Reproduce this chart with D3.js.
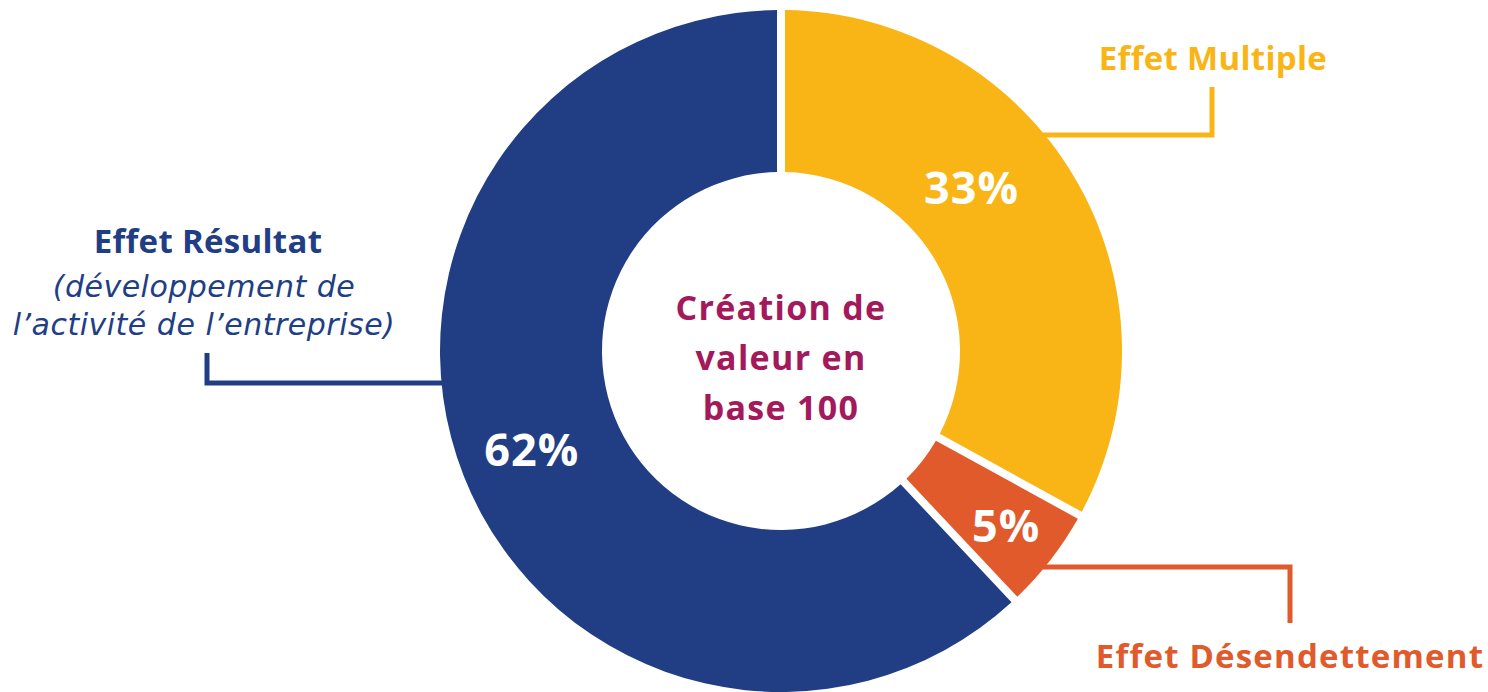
<!DOCTYPE html>
<html>
<head>
<meta charset="utf-8">
<script src="https://cdn.jsdelivr.net/npm/d3@7"></script>
<style>
  body { margin: 0; background: #fff; }
  svg { display: block; font-family: "Open Sans", Lato, sans-serif; font-variant-ligatures: none; }
</style>
</head>
<body>
<div id="container"></div>
<script>
// Data
const categories = ["Effet Multiple", "Effet Désendettement", "Effet Résultat"];
const values = [33, 5, 62];
const subLabels = [[], [], ["(développement de", "l’activité de l’entreprise)"]];
const centerLines = ["Création de", "valeur en", "base 100"];

const colors = ["#f9b515", "#e05a2b", "#213e84"];
const centerColor = "#a3195b";

// Chart dimensions
const width = 1488;
const height = 692;
const cx = 781;
const cy = 351;
const outerR = 341;
const innerR = 179;

const svg = d3.select("#container").append("svg")
    .attr("width", width)
    .attr("height", height);

const g = svg.append("g").attr("transform", `translate(${cx},${cy})`);

const pie = d3.pie().sort(null).value(d => d);
const arcs = pie(values);

const padRadius = outerR;
const arc = d3.arc()
    .innerRadius(innerR)
    .outerRadius(outerR)
    .padRadius(padRadius)
    .padAngle(8 / padRadius);

g.selectAll("path.slice")
    .data(arcs)
    .join("path")
    .attr("class", "slice")
    .attr("fill", (d, i) => colors[i])
    .attr("d", arc);

// percentage labels inside slices
const labelRadius = [251, 285, 268];
const labelAngleShift = [-10 * Math.PI / 180, 0, 0];
g.selectAll("text.pct")
    .data(arcs)
    .join("text")
    .attr("class", "pct")
    .attr("transform", (d, i) => {
        const a = (d.startAngle + d.endAngle) / 2 + labelAngleShift[i];
        const r = labelRadius[i];
        return `translate(${r * Math.sin(a)},${-r * Math.cos(a) + 16})`;
    })
    .attr("text-anchor", "middle")
    .attr("fill", "#fff")
    .attr("font-weight", 700)
    .attr("font-size", 45)
    .attr("letter-spacing", 1)
    .text(d => `${d.data}%`);

// center text (one block, one line per tspan)
g.append("text")
    .attr("text-anchor", "middle")
    .attr("fill", centerColor)
    .attr("font-weight", 700)
    .attr("font-size", 34)
    .attr("letter-spacing", 1.3)
    .selectAll("tspan")
    .data(centerLines)
    .join("tspan")
    .attr("x", 0)
    .attr("y", (d, i) => -31 + i * 50)
    .text(d => d);

// leader lines (elbow from slice edge)
const leaders = [
    { dy: -216, elbowX: 1212, endY: 87 },
    { dy: 216, elbowX: 1290, endY: 623 },
    { dy: 32, elbowX: 207, endY: 353 }
];
leaders.forEach((l, i) => {
    const side = l.elbowX > cx ? 1 : -1;
    const startX = cx + side * Math.sqrt(outerR * outerR - l.dy * l.dy) - side * 2;
    const y = cy + l.dy;
    svg.append("path")
        .attr("fill", "none")
        .attr("stroke", colors[i])
        .attr("stroke-width", 5)
        .attr("d", `M${startX},${y}H${l.elbowX}V${l.endY}`);
});

// category labels
const labelPos = [
    { x: 1213, y: 70 },
    { x: 1290, y: 668 },
    { x: 208, y: 253 }
];
categories.forEach((c, i) => {
    svg.append("text")
        .attr("x", labelPos[i].x)
        .attr("y", labelPos[i].y)
        .attr("text-anchor", "middle")
        .attr("fill", colors[i])
        .attr("font-weight", 700)
        .attr("font-size", 33)
        .attr("letter-spacing", i === 1 ? 1.2 : 0.3)
        .text(c);
    if (subLabels[i].length) {
        svg.append("text")
            .attr("text-anchor", "middle")
            .attr("fill", colors[i])
            .attr("font-family", "'DejaVu Sans', sans-serif")
            .attr("font-style", "italic")
            .attr("font-size", 30)
            .attr("letter-spacing", 0.5)
            .selectAll("tspan")
            .data(subLabels[i])
            .join("tspan")
            .attr("x", labelPos[i].x - 4)
            .attr("y", (s, j) => labelPos[i].y + 44 + j * 38)
            .text(s => s);
    }
});
</script>
</body>
</html>
